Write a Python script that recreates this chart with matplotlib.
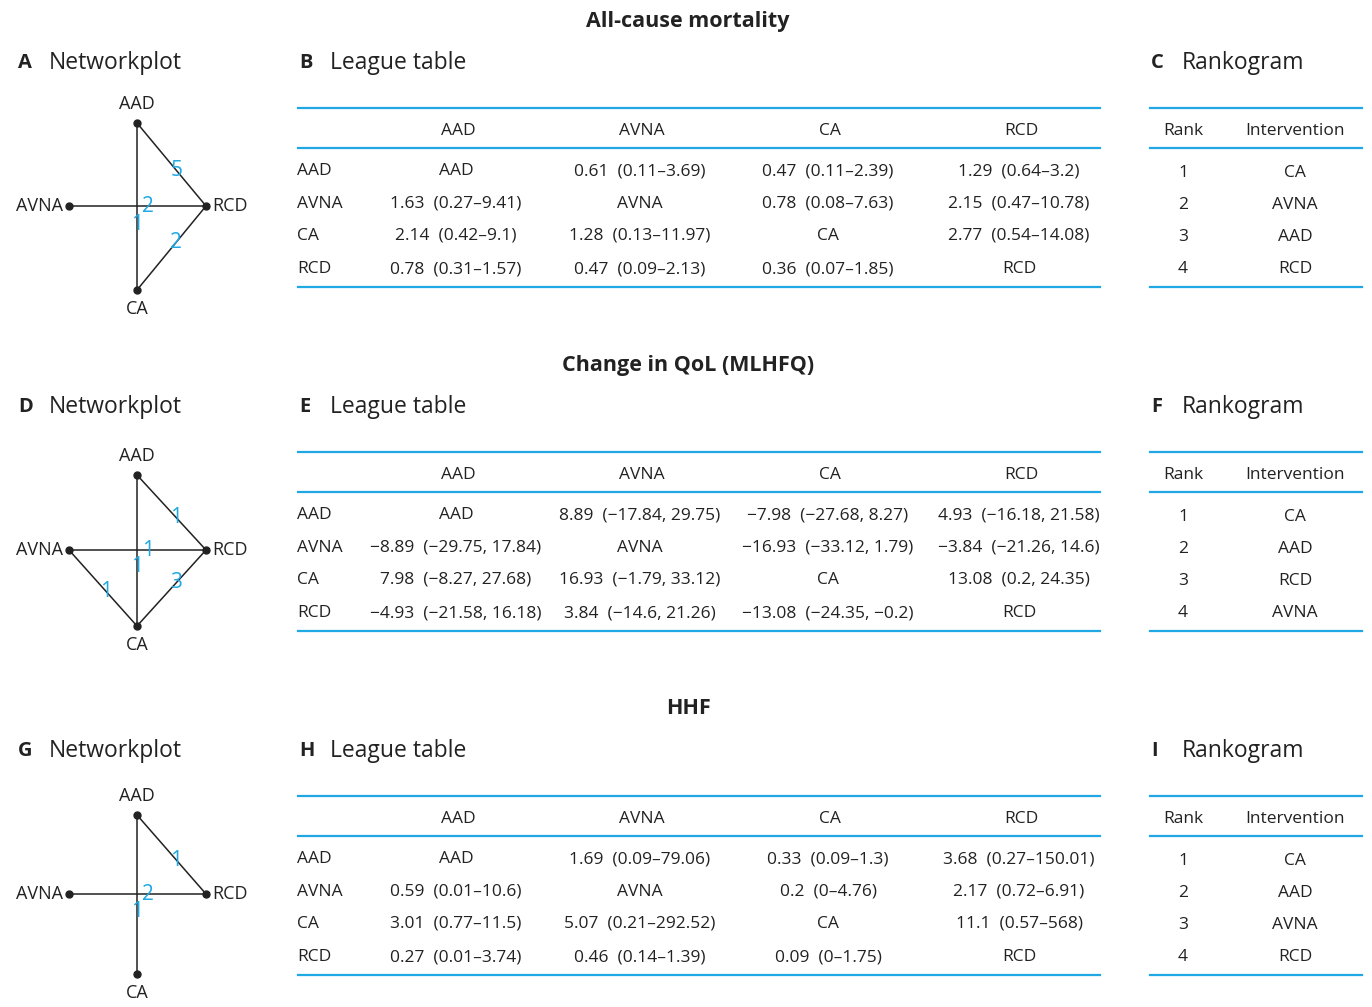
import matplotlib.pyplot as plt

plt.rcParams['font.family'] = ['Open Sans', 'DejaVu Sans']

# network meta-analysis results for three outcomes
outcomes = ['All-cause mortality', 'Change in QoL (MLHFQ)', 'HHF']
panel_letters = [('A', 'B', 'C'), ('D', 'E', 'F'), ('G', 'H', 'I')]
treatments = ['AAD', 'AVNA', 'CA', 'RCD']

# number of studies per direct comparison
edges_mort = [('AAD', 'RCD', 5), ('AVNA', 'RCD', 2), ('AAD', 'CA', 1), ('CA', 'RCD', 2)]
edges_qol = [('AAD', 'RCD', 1), ('AVNA', 'RCD', 1), ('AAD', 'CA', 1), ('AVNA', 'CA', 1), ('CA', 'RCD', 3)]
edges_hhf = [('AAD', 'RCD', 1), ('AVNA', 'RCD', 2), ('AAD', 'CA', 1)]

# league tables: estimate, lower, upper (row vs column), None on the diagonal
est_mort = [[None, 0.61, 0.47, 1.29],
            [1.63, None, 0.78, 2.15],
            [2.14, 1.28, None, 2.77],
            [0.78, 0.47, 0.36, None]]
lo_mort = [[None, 0.11, 0.11, 0.64],
           [0.27, None, 0.08, 0.47],
           [0.42, 0.13, None, 0.54],
           [0.31, 0.09, 0.07, None]]
hi_mort = [[None, 3.69, 2.39, 3.2],
           [9.41, None, 7.63, 10.78],
           [9.1, 11.97, None, 14.08],
           [1.57, 2.13, 1.85, None]]

est_qol = [[None, 8.89, -7.98, 4.93],
           [-8.89, None, -16.93, -3.84],
           [7.98, 16.93, None, 13.08],
           [-4.93, 3.84, -13.08, None]]
lo_qol = [[None, -17.84, -27.68, -16.18],
          [-29.75, None, -33.12, -21.26],
          [-8.27, -1.79, None, 0.2],
          [-21.58, -14.6, -24.35, None]]
hi_qol = [[None, 29.75, 8.27, 21.58],
          [17.84, None, 1.79, 14.6],
          [27.68, 33.12, None, 24.35],
          [16.18, 21.26, -0.2, None]]

est_hhf = [[None, 1.69, 0.33, 3.68],
           [0.59, None, 0.2, 2.17],
           [3.01, 5.07, None, 11.1],
           [0.27, 0.46, 0.09, None]]
lo_hhf = [[None, 0.09, 0.09, 0.27],
          [0.01, None, 0, 0.72],
          [0.77, 0.21, None, 0.57],
          [0.01, 0.14, 0, None]]
hi_hhf = [[None, 79.06, 1.3, 150.01],
          [10.6, None, 4.76, 6.91],
          [11.5, 292.52, None, 568],
          [3.74, 1.39, 1.75, None]]

rank_mort = ['CA', 'AVNA', 'AAD', 'RCD']
rank_qol = ['CA', 'AAD', 'RCD', 'AVNA']
rank_hhf = ['CA', 'AAD', 'AVNA', 'RCD']

sections = [
    (edges_mort, est_mort, lo_mort, hi_mort, '–', rank_mort),
    (edges_qol, est_qol, lo_qol, hi_qol, ', ', rank_qol),
    (edges_hhf, est_hhf, lo_hhf, hi_hhf, '–', rank_hhf),
]

# node layout of each network (pixels inside its section)
node_xy = [
    {'AAD': (137, 123), 'AVNA': (69, 206), 'RCD': (206, 206), 'CA': (137, 290)},
    {'AAD': (137, 131), 'AVNA': (69, 206), 'RCD': (206, 206), 'CA': (137, 282)},
    {'AAD': (137, 127), 'AVNA': (69, 206), 'RCD': (206, 206), 'CA': (137, 286)},
]
# where along each edge the study count sits
label_pos = {('AAD', 'RCD'): 0.57, ('AVNA', 'RCD'): 0.575, ('AAD', 'CA'): 0.605,
             ('AVNA', 'CA'): 0.55, ('CA', 'RCD'): 0.57}

BLUE = '#1fa8e3'
INK = '#222222'
STEP = 344
FS = 12.5
BASE = 6  # baseline offset below the row centre

fig = plt.figure(figsize=(13.72, 10.07), dpi=100)
ax = fig.add_axes([0, 0, 1, 1])
ax.set_xlim(0, 1372)
ax.set_ylim(1007, 0)
ax.axis('off')


def fmt(v):
    return f'{v:g}'.replace('-', '−')


def cell_text(x, y, s, ha='center'):
    ax.text(x, y + BASE, s, ha=ha, va='baseline', fontsize=FS, color=INK)


col_x = [456, 640, 828, 1019]
row_y = [169, 202, 234, 267]

for s, (edges, est, lo, hi, sep, ranking) in enumerate(sections):
    oy = s * STEP
    ax.text(688, 21 + oy, outcomes[s], ha='center', va='center', fontsize=15.5,
            fontweight='bold', color=INK)
    la, lb, lc = panel_letters[s]
    for px, letter, name in [(18, la, 'Networkplot'), (299, lb, 'League table'),
                             (1151, lc, 'Rankogram')]:
        ax.text(px, 63 + oy, letter, ha='left', va='center', fontsize=14.5,
                fontweight='bold', color=INK)
        ax.text(px + 31, 63 + oy, name, ha='left', va='center', fontsize=16.5, color=INK)

    # network plot
    pos = {k: (x, y + oy) for k, (x, y) in node_xy[s].items()}
    for a, b, n in edges:
        (x0, y0), (x1, y1) = pos[a], pos[b]
        ax.plot([x0, x1], [y0, y1], color=INK, lw=1.1, zorder=2)
        t = label_pos[(a, b)]
        ax.text(x0 + t * (x1 - x0), y0 + t * (y1 - y0), str(n), ha='center',
                va='center', fontsize=15, color=BLUE, zorder=4)
    for k in treatments:
        ax.plot(*pos[k], 'o', color=INK, ms=5, zorder=3)
    x, y = pos['AAD']
    ax.text(x, y - 19, 'AAD', ha='center', va='center', fontsize=13, color=INK)
    x, y = pos['CA']
    ax.text(x, y + 19, 'CA', ha='center', va='center', fontsize=13, color=INK)
    x, y = pos['AVNA']
    ax.text(x - 6, y, 'AVNA', ha='right', va='center', fontsize=13, color=INK)
    x, y = pos['RCD']
    ax.text(x + 6, y, 'RCD', ha='left', va='center', fontsize=13, color=INK)

    # league table
    for yl in (108, 148, 287):
        ax.plot([298, 1100], [yl + oy] * 2, color=BLUE, lw=1.6)
    for j, tr in enumerate(treatments):
        cell_text(col_x[j] + 2, 129 + oy, tr)
    for i, tr in enumerate(treatments):
        cell_text(297, row_y[i] + oy, tr, ha='left')
        for j in range(4):
            if est[i][j] is None:
                cell = tr
            else:
                cell = f'{fmt(est[i][j])}  ({fmt(lo[i][j])}{sep}{fmt(hi[i][j])})'
            cell_text(col_x[j], row_y[i] + oy, cell)

    # rankogram
    for yl in (108, 148, 287):
        ax.plot([1150, 1362], [yl + oy] * 2, color=BLUE, lw=1.6)
    cell_text(1183, 129 + oy, 'Rank')
    cell_text(1295, 129 + oy, 'Intervention')
    for r, tr in enumerate(ranking):
        cell_text(1183, 171 + r * 32 + oy, str(r + 1))
        cell_text(1295, 171 + r * 32 + oy, tr)

fig.savefig('out.png', dpi=100, facecolor='white')
